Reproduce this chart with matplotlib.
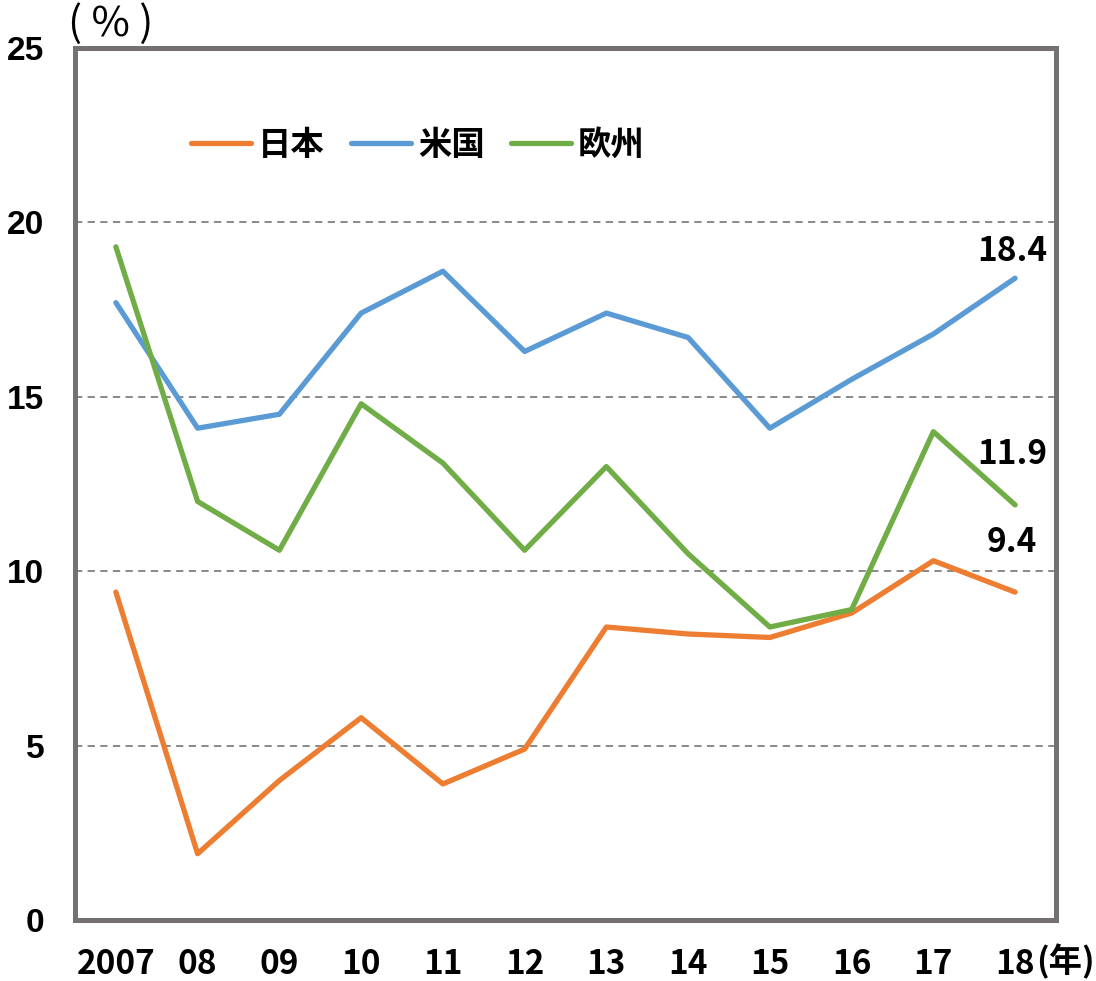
import matplotlib.pyplot as plt
import numpy as np

years = ['2007', '08', '09', '10', '11', '12', '13', '14', '15', '16', '17', '18']
japan = [9.4, 1.9, 4.0, 5.8, 3.9, 4.9, 8.4, 8.2, 8.1, 8.8, 10.3, 9.4]
usa = [17.7, 14.1, 14.5, 17.4, 18.6, 16.3, 17.4, 16.7, 14.1, 15.5, 16.8, 18.4]
europe = [19.3, 12.0, 10.6, 14.8, 13.1, 10.6, 13.0, 10.5, 8.4, 8.9, 14.0, 11.9]
yticks = [0, 5, 10, 15, 20, 25]

cjk = ['Noto Sans CJK JP', 'DejaVu Sans']
plt.rcParams['font.family'] = cjk

fig = plt.figure(figsize=(10.96, 9.81), dpi=100)
ax = fig.add_axes([75 / 1096, 1 - 920 / 981, 981 / 1096, 872 / 981])

x = np.arange(len(years))
lw = 3.8
ax.plot(x, japan, color='#ED7D31', lw=lw, solid_capstyle='round', label='日本', zorder=3)
ax.plot(x, usa, color='#5B9BD5', lw=lw, solid_capstyle='round', label='米国', zorder=3)
ax.plot(x, europe, color='#70AD47', lw=lw, solid_capstyle='round', label='欧州', zorder=3)

ax.set_xlim(-0.5, len(years) - 0.5)
ax.set_ylim(0, 25)

for v in [5, 10, 15, 20]:
    ax.axhline(v, color='#808080', lw=1.3, ls=(0, (4, 3)), zorder=1)

for s in ax.spines.values():
    s.set_color('#767171')
    s.set_linewidth(3.6)

ax.set_xticks(x)
ax.set_xticklabels(years, fontsize=24, fontweight='bold', family=cjk)
ax.set_yticks(yticks)
ax.set_yticklabels([str(v) for v in yticks], fontsize=24, fontweight='bold',
                   family='Liberation Sans')
ax.tick_params(axis='both', length=0)
ax.tick_params(axis='x', pad=20)
ax.tick_params(axis='y', pad=22)

# end labels
ax.annotate('18.4', (11, usa[-1]), xytext=(32, 27), textcoords='offset pixels',
            ha='right', va='center', fontsize=24, fontweight='bold')
ax.annotate('11.9', (11, europe[-1]), xytext=(32, 50), textcoords='offset pixels',
            ha='right', va='center', fontsize=24, fontweight='bold')
ax.annotate('9.4', (11, japan[-1]), xytext=(22, 50), textcoords='offset pixels',
            ha='right', va='center', fontsize=24, fontweight='bold')

ax.legend(loc='center left', bbox_to_anchor=(0.088, 0.888), ncol=3, frameon=False,
          prop={'size': 24, 'weight': 'bold', 'family': cjk},
          handlelength=1.8, handletextpad=0.2, columnspacing=0.8)

fig.text(68 / 1096, 1 - 24 / 981, '( % )', fontsize=30, ha='left', va='center')
fig.text(1036 / 1096, 1 - 962 / 981, '(年)', fontsize=24, fontweight='bold',
         ha='left', va='center')

fig.savefig('out.png', dpi=100)
